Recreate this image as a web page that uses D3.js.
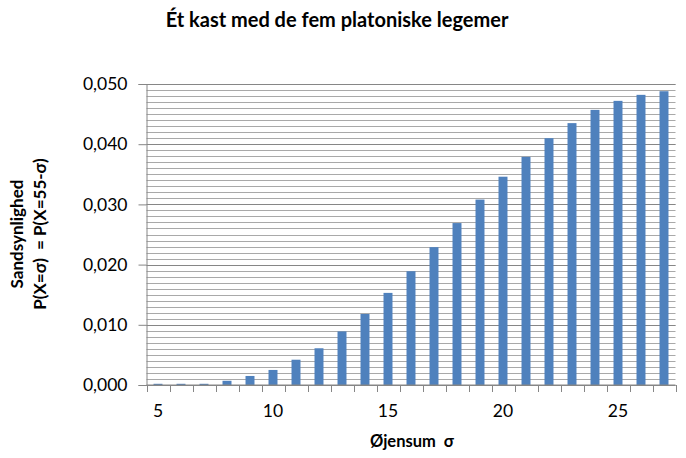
<!DOCTYPE html>
<html>
<head>
<meta charset="utf-8">
<script src="https://cdn.jsdelivr.net/npm/d3@7"></script>
<style>
  body { margin: 0; background: #fff; }
  svg text { font-family: Lato, "Open Sans", sans-serif; fill: #000; }
</style>
</head>
<body>
<div id="chart"></div>
<script>
// Eye sums and probabilities
const sums = [5, 6, 7, 8, 9, 10, 11, 12, 13, 14, 15, 16, 17, 18, 19, 20, 21, 22, 23, 24, 25, 26, 27];
const probs = [0.0002, 0.0002, 0.0002, 0.0007, 0.0015, 0.0025, 0.0042, 0.0061, 0.0089, 0.0118,
               0.0153, 0.0189, 0.0229, 0.0269, 0.0308, 0.0346, 0.0379, 0.0410, 0.0435, 0.0457,
               0.0472, 0.0482, 0.0488];
const xLabels = [5, 10, 15, 20, 25];
const yTicks = [0, 0.01, 0.02, 0.03, 0.04, 0.05];
const yMinor = d3.range(0, 0.0505, 0.001);

const titleText = "Ét kast med de fem platoniske legemer";
const yTitle = ["Sandsynlighed", "P(X=σ)  = P(X=55-σ)"];
const xTitle = "Øjensum  σ";

const W = 686, H = 458;
const plot = { left: 146.5, right: 675.5, top: 84, bottom: 385 };

const svg = d3.select("#chart").append("svg")
    .attr("width", W).attr("height", H);

const x = d3.scaleBand().domain(sums).range([plot.left, plot.right]).paddingInner(0.61).paddingOuter(0.305);
const xb = d3.scaleBand().domain(sums).range([plot.left, plot.right]);
const y = d3.scaleLinear().domain([0, 0.05]).range([plot.bottom, plot.top]);

// minor gridlines
svg.append("g").selectAll("line")
    .data(yMinor)
    .enter().append("line")
    .attr("x1", plot.left).attr("x2", plot.right)
    .attr("y1", d => Math.round(y(d)) + 0.5).attr("y2", d => Math.round(y(d)) + 0.5)
    .attr("stroke", "#a9a9a9").attr("stroke-width", 1);

// major gridlines
svg.append("g").selectAll("line")
    .data(yTicks)
    .enter().append("line")
    .attr("x1", plot.left).attr("x2", plot.right)
    .attr("y1", d => Math.round(y(d)) + 0.5).attr("y2", d => Math.round(y(d)) + 0.5)
    .attr("stroke", "#868686").attr("stroke-width", 1);

// bars
svg.append("g").selectAll("rect")
    .data(sums)
    .enter().append("rect")
    .attr("x", (d) => x(d))
    .attr("width", x.bandwidth())
    .attr("y", (d, i) => y(probs[i]))
    .attr("height", (d, i) => plot.bottom - y(probs[i]))
    .attr("fill", "#4f81bd");

// y axis
const yAxis = svg.append("g")
    .attr("transform", `translate(${plot.left},0)`)
    .call(d3.axisLeft(y).tickValues(yTicks).tickSize(8).tickPadding(11)
        .tickFormat(d => d3.format(".3f")(d).replace(".", ",")));
yAxis.selectAll("path, line").attr("stroke", "#868686");
yAxis.selectAll("text").style("font-size", "17.5px");

// x axis: ticks on band boundaries, labels every 5
const xAxis = svg.append("g")
    .attr("transform", `translate(0,${plot.bottom})`);
xAxis.append("line")
    .attr("x1", plot.left).attr("x2", plot.right)
    .attr("stroke", "#868686");
xAxis.selectAll("line.tick")
    .data(sums.concat([null]))
    .enter().append("line")
    .attr("class", "tick")
    .attr("x1", (d, i) => Math.round(plot.left + i * xb.bandwidth()) + 0.5)
    .attr("x2", (d, i) => Math.round(plot.left + i * xb.bandwidth()) + 0.5)
    .attr("y1", 0).attr("y2", 7)
    .attr("stroke", "#868686");
xAxis.selectAll("text")
    .data(xLabels)
    .enter().append("text")
    .attr("x", d => xb(d) + xb.bandwidth() / 2)
    .attr("y", 32)
    .attr("text-anchor", "middle")
    .style("font-size", "17.5px")
    .text(d => d);

// titles
svg.append("text")
    .attr("x", 337).attr("y", 27)
    .attr("text-anchor", "middle")
    .style("font-size", "20px").style("font-weight", "bold")
    .text(titleText);

svg.append("text")
    .attr("x", 412).attr("y", 447)
    .attr("text-anchor", "middle")
    .style("font-size", "16.5px").style("font-weight", "bold")
    .style("white-space", "pre")
    .text(xTitle);

const yt = svg.append("text")
    .attr("transform", "translate(23,234) rotate(-90)")
    .attr("text-anchor", "middle")
    .style("font-size", "17px").style("font-weight", "bold")
    .style("white-space", "pre");
yt.selectAll("tspan")
    .data(yTitle)
    .enter().append("tspan")
    .attr("x", 0)
    .attr("dy", (d, i) => i === 0 ? 0 : 23)
    .text(d => d);
</script>
</body>
</html>
